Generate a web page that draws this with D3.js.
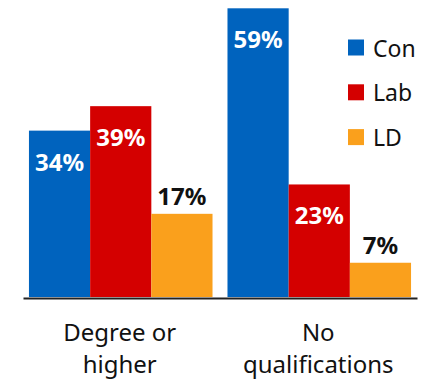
<!DOCTYPE html>
<html><head><meta charset="utf-8">
<script src="https://cdn.jsdelivr.net/npm/d3@7"></script>
<style>body{margin:0;background:#fff}svg{display:block}text{font-family:"Noto Sans",sans-serif}</style>
</head><body><svg id="c" width="435" height="381"></svg>
<script>
const categories = ["Degree or higher", "No qualifications"];
const categoryLines = [["Degree or", "higher"], ["No", "qualifications"]];
const series = ["Con", "Lab", "LD"];
const con = [34, 59];
const lab = [39, 23];
const ld = [17, 7];
const colors = ["#0063BE", "#D40000", "#FAA01C"];

const values = [con, lab, ld];
const svg = d3.select("#c");
const x0 = d3.scaleBand().domain(categories).range([23, 417]).paddingInner(0.0754).paddingOuter(0.03);
const x1 = d3.scaleBand().domain(series).range([0, x0.bandwidth()]).padding(0);
const y = d3.scaleLinear().domain([0, 59]).range([297, 8.3]);
const color = d3.scaleOrdinal().domain(series).range(colors);

const data = [];
categories.forEach((c, ci) => series.forEach((s, si) => data.push({c, s, v: values[si][ci]})));

const g = svg.append("g");
g.selectAll("rect.bar").data(data).join("rect").attr("class", "bar")
  .attr("x", d => x0(d.c) + x1(d.s))
  .attr("width", x1.bandwidth())
  .attr("y", d => y(d.v))
  .attr("height", d => y(0) - y(d.v))
  .attr("fill", d => color(d.s));

// labels: inside if tall enough, else above
g.selectAll("text.lbl").data(data).join("text").attr("class", "lbl")
  .attr("x", d => x0(d.c) + x1(d.s) + x1.bandwidth() / 2)
  .attr("y", d => d.v >= 20 ? y(d.v) + 40 : y(d.v) - 9)
  .attr("text-anchor", "middle")
  .attr("font-size", 24).attr("font-weight", 700)
  .attr("fill", d => d.v >= 20 ? "#fff" : "#111")
  .text(d => d.v + "%");

// baseline axis
const ax = svg.append("g").attr("transform", `translate(0,${y(0) + 1})`)
  .call(d3.axisBottom(x0).tickSize(0).tickFormat(""));
ax.select(".domain").attr("stroke", "#222").attr("stroke-width", 2);

// category labels
categories.forEach((c, i) => {
  const t = svg.append("text").attr("text-anchor", "middle")
    .attr("font-size", 24).attr("fill", "#111");
  categoryLines[i].forEach((ln, j) => {
    t.append("tspan").attr("x", x0(c) + x0.bandwidth() / 2 - 1).attr("y", 341 + j * 32).text(ln);
  });
});

// legend
const lg = svg.append("g");
series.forEach((s, i) => {
  const cy = 47.5 + i * 44.8;
  lg.append("rect").attr("x", 348).attr("y", cy - 8).attr("width", 16).attr("height", 16).attr("fill", color(s));
  lg.append("text").attr("x", 373).attr("y", cy + 9).attr("font-size", 23).attr("fill", "#111").text(s);
});
</script></body></html>
